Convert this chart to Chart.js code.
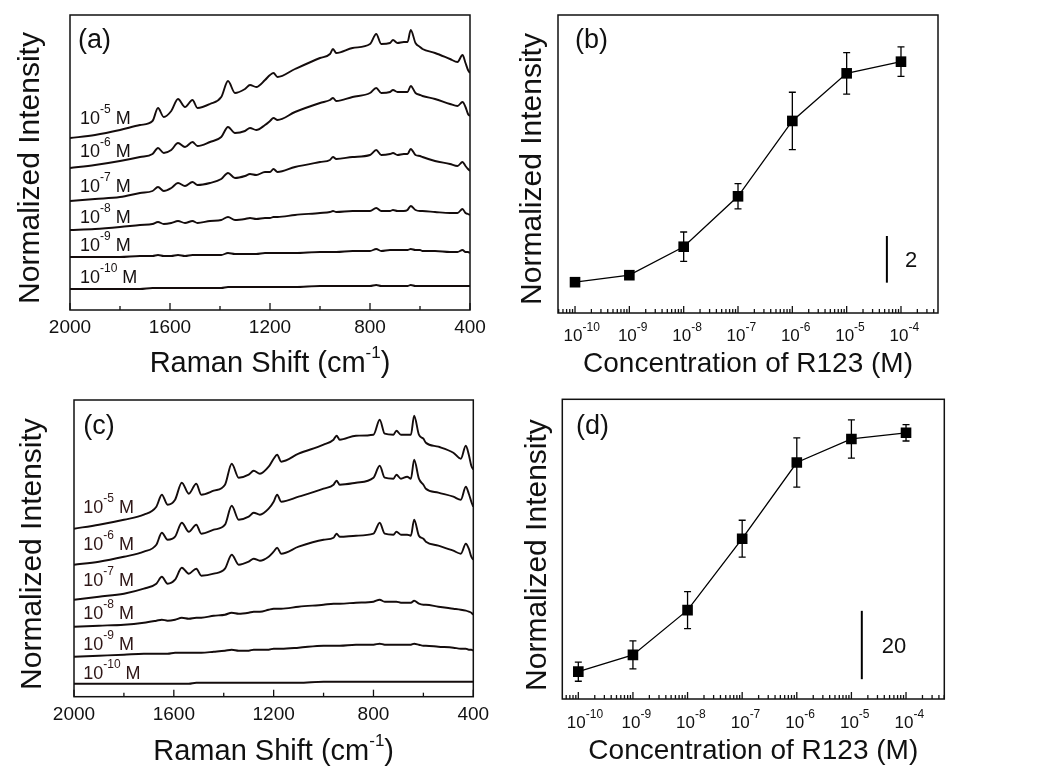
<!DOCTYPE html>
<html><head><meta charset="utf-8">
<script src="https://cdn.jsdelivr.net/npm/chart.js@4.4.1/dist/chart.umd.min.js"></script>
<style>
html,body{margin:0;padding:0;background:#fff;width:1054px;height:769px;overflow:hidden}
canvas{position:absolute}
</style></head><body>
<canvas id="ca" width="500" height="385" style="left:0;top:0"></canvas>
<canvas id="cb" width="557" height="385" style="left:497px;top:0"></canvas>
<canvas id="cc" width="500" height="384" style="left:0;top:385px"></canvas>
<canvas id="cd" width="557" height="384" style="left:497px;top:385px"></canvas>
<script>
// ---------------- data ----------------
const ramanShift = [2000,1900,1800,1720,1670,1648,1625,1595,1568,1540,1510,1490,1440,1395,1368,1340,1300,1280,1255,1220,1200,1186,1170,1100,1000,960,948,935,870,800,775,755,720,708,690,665,650,637,618,600,590,540,480,450,430,418,408,400];

// panel (a) spectra
const a_1e5  = [172,175,180,185,189,202,193,199,211,203,210,202,206,213,229,217,221,225,223,230,235,237,233,241,252,256,261,257,262,266,276,266,267,270,267,268,268,280,267,263,261,257,251,248,255,247,240,237];
const a_1e6  = [142,145,149,153,156,162,157,160,167,163,168,164,168,173,183,177,179,182,180,185,189,192,190,198,207,210,212,209,213,217,222,217,218,220,218,218,218,224,217,215,214,211,206,204,208,203,196,194];
const a_1e7  = [109,111,113,117,119,123,119,122,127,124,128,125,127,131,137,132,134,136,135,138,138,141,138,143,148,150,153,151,153,155,160,155,156,157,155,156,156,161,155,154,153,149,146,144,148,144,141,139];
const a_1e8  = [80,81,83,85,86,88,86,87,89,87,89,87,89,90,93,90,91,92,91,92,92,93,93,95,97,98,99,98,99,99,102,99,99,100,99,99,100,104,100,99,99,98,97,97,101,97,96,95];
const a_1e9  = [53,53,53,54,54,55,54,54,55,54,55,55,55,55,57,56,56,56,56,57,57,57,57,57,58,58,58,58,59,59,61,59,60,60,60,60,60,61,60,60,59,59,58,58,60,58,58,57];
const a_1e10 = [21,21,21,21,22,22,22,22,22,22,22,22,22,22,23,23,23,23,23,23,23,23,23,23,24,24,24,24,24,24,25,24,24,24,24,24,24,25,24,24,24,24,24,24,24,24,24,24];

// panel (c) spectra
const c_1e5  = [168,172,177,182,190,202,192,197,214,203,213,202,206,212,233,219,222,226,223,230,238,242,235,243,252,257,261,257,261,262,277,263,262,266,262,262,262,281,262,258,254,250,244,238,251,242,231,227];
const c_1e6  = [132,135,140,145,152,164,157,160,174,165,172,163,167,172,191,177,180,184,182,188,195,202,195,200,208,212,216,212,214,219,231,219,218,222,218,220,218,237,218,212,208,204,200,197,210,203,195,190];
const c_1e7  = [97,100,103,108,113,120,113,117,129,123,128,121,123,128,142,132,135,138,136,140,145,149,143,150,157,159,163,160,161,163,174,163,162,165,162,162,161,177,161,158,155,151,146,143,153,148,140,137];
const c_1e8  = [70,71,72,74,76,77,76,77,79,78,79,79,81,82,84,83,84,85,85,87,88,88,88,90,92,93,93,93,94,95,97,95,95,95,94,94,94,96,93,92,92,90,88,87,86,85,84,82];
const c_1e9  = [40,41,42,43,43,43,43,44,44,44,44,44,45,46,47,46,46,47,47,47,48,48,48,49,51,51,51,51,52,52,53,52,52,52,52,52,52,53,52,51,51,50,49,48,48,47,47,46];
const c_1e10 = [13,13,13,13,13,13,13,13,13,13,14,14,14,14,14,14,14,14,14,14,14,14,14,14,15,15,15,15,15,15,15,15,15,15,15,15,15,15,15,15,15,15,15,15,15,15,15,15];

const spectrumExponents = ['-5','-6','-7','-8','-9','-10'];
const shiftMajorTicks = [2000,1600,1200,800,400];
const shiftMinorTicks = [1800,1400,1000,600];

// panels (b) and (d)
const concentrations = [1e-10,1e-9,1e-8,1e-7,1e-6,1e-5,1e-4];
const concTickExponents = ['-10','-9','-8','-7','-6','-5','-4'];
const intensityB = [1.32,1.62,2.84,5.00,8.23,10.27,10.77];
const errorB     = [0.12,0.12,0.63,0.54,1.23,0.89,0.63];
const intensityD = [8.0,12.9,26.0,46.9,69.2,76.1,77.9];
const errorD     = [2.8,4.1,5.4,5.4,7.2,5.6,2.4];

// ---------------- helpers ----------------
const FONT = '"Liberation Sans", Arial, Helvetica, sans-serif';
const INK = '#111';
Chart.defaults.font.family = FONT;

function rich(ctx, parts, x, y, align){
  let total = 0;
  for (const p of parts){ ctx.font = p[1] + 'px ' + FONT; total += ctx.measureText(p[0]).width; }
  let cx = align === 'center' ? x - total/2 : x;
  ctx.textAlign = 'left'; ctx.textBaseline = 'alphabetic';
  for (const p of parts){
    ctx.font = p[1] + 'px ' + FONT;
    ctx.fillText(p[0], cx, y + (p[2] || 0));
    cx += ctx.measureText(p[0]).width;
  }
}
function yTitle(ctx, text, cx, cy, size){
  ctx.save(); ctx.translate(cx, cy); ctx.rotate(-Math.PI/2);
  ctx.font = size + 'px ' + FONT; ctx.textAlign = 'center'; ctx.textBaseline = 'middle';
  ctx.fillText(text, 0, 0); ctx.restore();
}
function frame(ctx, ca){
  ctx.strokeStyle = INK; ctx.lineWidth = 1.5;
  ctx.strokeRect(ca.left, ca.top, ca.right - ca.left, ca.bottom - ca.top);
}
function tick(ctx, px, bottom, len){
  ctx.beginPath(); ctx.moveTo(px, bottom); ctx.lineTo(px, bottom - len); ctx.stroke();
}

// ---------------- spectra panels ----------------
function spectrumChart(id, series, cfg){
  const datasets = series.map(s => ({
    data: ramanShift.map((w, i) => ({x: w, y: s[i]})),
    borderColor: '#140c0c', borderWidth: 1.9, pointRadius: 0,
    cubicInterpolationMode: 'monotone', fill: false
  }));
  const decor = {
    id: 'decor' + id,
    afterDraw(chart){
      const {ctx, chartArea: ca, scales: {x, y}} = chart;
      ctx.save();
      frame(ctx, ca);
      ctx.lineWidth = 1.3;
      shiftMajorTicks.forEach(v => tick(ctx, x.getPixelForValue(v), ca.bottom, 7));
      shiftMinorTicks.forEach(v => tick(ctx, x.getPixelForValue(v), ca.bottom, 4));
      ctx.fillStyle = INK;
      ctx.font = '19px ' + FONT; ctx.textAlign = 'center'; ctx.textBaseline = 'alphabetic';
      shiftMajorTicks.forEach(v => ctx.fillText(String(v), x.getPixelForValue(v), ca.bottom + cfg.tickDy));
      rich(ctx, [['Raman Shift (cm', 29], ['-1', 17, -14], [')', 29]], (ca.left + ca.right)/2, ca.bottom + cfg.titleDy, 'center');
      yTitle(ctx, 'Normalized Intensity', ca.left + cfg.yTitleDx, (ca.top + ca.bottom)/2 + cfg.yTitleDy, 30);
      ctx.font = '27px ' + FONT; ctx.textAlign = 'left';
      ctx.fillText(cfg.panel, ca.left + cfg.panelDx, ca.top + cfg.panelDy);
      ctx.fillStyle = cfg.labelInk;
      spectrumExponents.forEach((e, i) => {
        rich(ctx, [['10', 18], [e, 12, -11], [' M', 18]], x.getPixelForValue(cfg.labelX), y.getPixelForValue(cfg.labelY[i]), 'left');
      });
      ctx.restore();
    }
  };
  return new Chart(document.getElementById(id), {
    type: 'line',
    data: {datasets},
    options: {
      responsive: false, animation: false, devicePixelRatio: 1, events: [],
      layout: {padding: cfg.pad},
      plugins: {legend: {display: false}, tooltip: {enabled: false}},
      scales: {
        x: {type: 'linear', reverse: true, min: 400, max: 2000, display: false},
        y: {type: 'linear', min: 0, max: cfg.ymax, display: false}
      }
    },
    plugins: [decor]
  });
}

spectrumChart('ca', [a_1e5, a_1e6, a_1e7, a_1e8, a_1e9, a_1e10], {
  pad: {left: 70, top: 15, right: 30, bottom: 75}, ymax: 295,
  tickDy: 23, titleDy: 61.5, yTitleDx: -39, yTitleDy: 5.5,
  panel: '(a)', panelDx: 8, panelDy: 32.6,
  labelX: 1960, labelY: [186, 153.5, 118.5, 86.7, 59.3, 27.5], labelInk: '#151010'
});
spectrumChart('cc', [c_1e5, c_1e6, c_1e7, c_1e8, c_1e9, c_1e10], {
  pad: {left: 74, top: 15, right: 26.7, bottom: 72.3}, ymax: 296.7,
  tickDy: 23.3, titleDy: 63.3, yTitleDx: -41.5, yTitleDy: 5.7,
  panel: '(c)', panelDx: 9.3, panelDy: 34.3,
  labelX: 1963, labelY: [184, 146.4, 110.7, 77.4, 46.7, 18.2], labelInk: '#2e1616'
});

// ---------------- concentration panels ----------------
function concChart(id, values, errors, cfg){
  const decor = {
    id: 'decor' + id,
    beforeDatasetsDraw(chart){
      const {ctx, scales: {x, y}} = chart;
      ctx.save(); ctx.strokeStyle = '#000'; ctx.lineWidth = 1.3;
      concentrations.forEach((c, i) => {
        const px = x.getPixelForValue(c);
        const y1 = y.getPixelForValue(values[i] + errors[i]);
        const y2 = y.getPixelForValue(values[i] - errors[i]);
        ctx.beginPath();
        ctx.moveTo(px, y1); ctx.lineTo(px, y2);
        ctx.moveTo(px - 3.5, y1); ctx.lineTo(px + 3.5, y1);
        ctx.moveTo(px - 3.5, y2); ctx.lineTo(px + 3.5, y2);
        ctx.stroke();
      });
      ctx.restore();
    },
    afterDraw(chart){
      const {ctx, chartArea: ca, scales: {x, y}} = chart;
      ctx.save();
      frame(ctx, ca);
      ctx.lineWidth = 1.3;
      const lo = Math.floor(Math.log10(x.min)), hi = Math.ceil(Math.log10(x.max));
      for (let n = lo; n <= hi; n++){
        for (let k = 1; k <= 9; k++){
          const v = k * Math.pow(10, n);
          if (v < x.min || v > x.max) continue;
          tick(ctx, x.getPixelForValue(v), ca.bottom, k === 1 ? 7 : 4);
        }
      }
      ctx.fillStyle = INK;
      concentrations.forEach((c, i) => {
        const px = x.getPixelForValue(c);
        ctx.font = '17px ' + FONT;
        const w10 = ctx.measureText('10').width;
        rich(ctx, [['10', 17], [concTickExponents[i], 12, -cfg.supUp]], px - 2 - w10/2, ca.bottom + cfg.tickDy, 'left');
      });
      ctx.font = '28px ' + FONT; ctx.textAlign = 'center'; ctx.textBaseline = 'alphabetic';
      ctx.fillText('Concentration of R123 (M)', (ca.left + ca.right)/2, ca.bottom + cfg.titleDy);
      yTitle(ctx, 'Normalized Intensity', ca.left + cfg.yTitleDx, (ca.top + ca.bottom)/2 + cfg.yTitleDy, 30);
      ctx.font = '27px ' + FONT; ctx.textAlign = 'left';
      ctx.fillText(cfg.panel, ca.left + cfg.panelDx, ca.top + cfg.panelDy);
      // scale bar
      const bx = x.getPixelForValue(cfg.barX);
      const b1 = y.getPixelForValue(cfg.barFrom), b2 = y.getPixelForValue(cfg.barFrom + cfg.barLen);
      ctx.strokeStyle = '#000'; ctx.lineWidth = 2;
      ctx.beginPath(); ctx.moveTo(bx, b1); ctx.lineTo(bx, b2); ctx.stroke();
      ctx.font = cfg.barFont + 'px ' + FONT; ctx.textAlign = 'left';
      ctx.fillText(String(cfg.barLen), bx + cfg.barTextDx, (b1 + b2)/2 + cfg.barTextDy);
      ctx.restore();
    }
  };
  return new Chart(document.getElementById(id), {
    type: 'line',
    data: {datasets: [{
      data: concentrations.map((c, i) => ({x: c, y: values[i]})),
      borderColor: '#000', borderWidth: 1.3, tension: 0,
      pointStyle: 'rect', pointRadius: 7.5, pointBorderWidth: 0, pointBackgroundColor: '#000'
    }]},
    options: {
      responsive: false, animation: false, devicePixelRatio: 1, events: [],
      layout: {padding: cfg.pad},
      plugins: {legend: {display: false}, tooltip: {enabled: false}},
      scales: {
        x: {type: 'logarithmic', min: cfg.xmin, max: cfg.xmax, display: false},
        y: {type: 'linear', min: 0, max: cfg.ymax, display: false}
      }
    },
    plugins: [decor]
  });
}

concChart('cb', intensityB, errorB, {
  pad: {left: 61, top: 15, right: 116, bottom: 72}, xmin: 4.86e-11, xmax: 4.80e-4, ymax: 12.77,
  tickDy: 27.5, supUp: 10, titleDy: 59, yTitleDx: -25.5, yTitleDy: 5,
  panel: '(b)', panelDx: 17, panelDy: 32.6,
  barX: 5.5e-5, barFrom: 1.30, barLen: 2, barFont: 22, barTextDx: 18, barTextDy: 8
});
concChart('cd', intensityD, errorD, {
  pad: {left: 65.3, top: 14.3, right: 109.7, bottom: 70}, xmin: 5.09e-11, xmax: 5.02e-4, ymax: 87.7,
  tickDy: 28.5, supUp: 9.5, titleDy: 60, yTitleDx: -24.8, yTitleDy: 5.9,
  panel: '(d)', panelDx: 13.7, panelDy: 35,
  barX: 1.55e-5, barFrom: 5.8, barLen: 20, barFont: 22, barTextDx: 20, barTextDy: 8
});
</script>
</body></html>
